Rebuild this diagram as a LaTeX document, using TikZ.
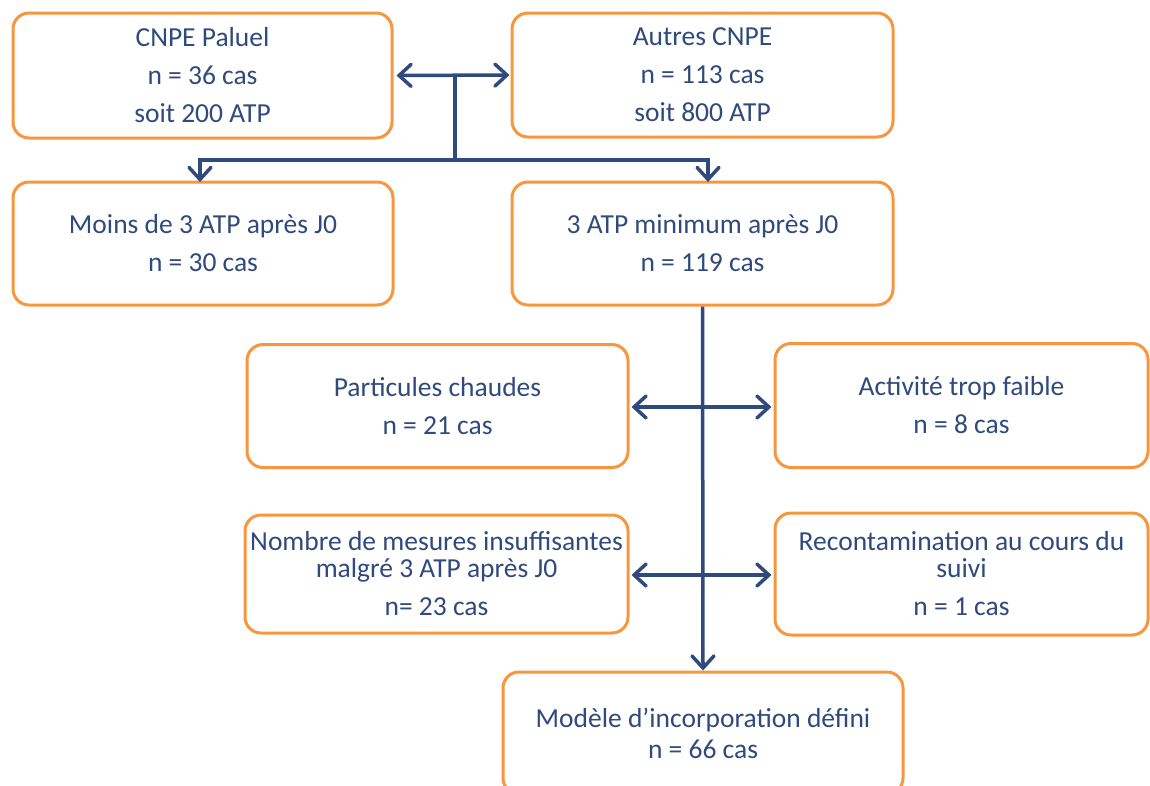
\documentclass[tikz,border=0pt]{standalone}
\usepackage{fontspec}
\setmainfont{Carlito}
\usetikzlibrary{arrows.meta}
\definecolor{boxorange}{HTML}{F7963C}
\definecolor{navy}{HTML}{2F4A7C}
\begin{document}
\begin{tikzpicture}[x=1pt,y=-1pt,
  box/.style={draw=boxorange,line width=3pt,rounded corners=16pt,fill=white,
    align=center,text=navy,inner sep=0pt,
    font=\fontsize{27.5}{27}\selectfont},
  conn/.style={draw=navy,line width=3.5pt,
    arrows={-Straight Barb[length=12pt,width=22pt,line cap=round]}},
  dbl/.style={draw=navy,line width=3.5pt,
    arrows={Straight Barb[length=12pt,width=22pt,line cap=round]-Straight Barb[length=12pt,width=22pt,line cap=round]}},
  plain/.style={draw=navy,line width=3.5pt}
]
\useasboundingbox (0,0) rectangle (1150,785);
\clip (0,0) rectangle (1150,785);

\node[box,minimum width=379pt,minimum height=125pt] (b1) at (202.5,75.5)
  {CNPE Paluel\\[11pt]n = 36 cas\\[11pt]soit 200 ATP};
\node[box,minimum width=381pt,minimum height=124pt] (b2) at (702.5,75)
  {Autres CNPE\\[11pt]n = 113 cas\\[11pt]soit 800 ATP};
\node[box,minimum width=380pt,minimum height=123pt] (b3) at (203,243.5)
  {Moins de 3 ATP après J0\\[11pt]n = 30 cas};
\node[box,minimum width=381pt,minimum height=123pt] (b4) at (702.5,243.5)
  {3 ATP minimum après J0\\[11pt]n = 119 cas};
\node[box,minimum width=381pt,minimum height=123pt] (b5) at (437.5,406)
  {Particules chaudes\\[11pt]n = 21 cas};
\node[box,minimum width=373pt,minimum height=124pt] (b6) at (961.5,405.5)
  {Activité trop faible\\[11pt]n = 8 cas};
\node[box,minimum width=383pt,minimum height=118pt] (b7) at (436.5,574)
  {Nombre de mesures insuffisantes\\malgré 3 ATP après J0\\[11pt]n= 23 cas};
\node[box,minimum width=373pt,minimum height=122pt] (b8) at (961.5,574)
  {Recontamination au cours du\\suivi\\[11pt]n = 1 cas};
\node[box,minimum width=400pt,minimum height=122pt] (b9) at (703,733)
  {Modèle d'incorporation défini\\[4pt]n = 66 cas};

\coordinate (t) at (455,75);
\coordinate (h) at (455,160);
\coordinate (l) at (200,182);
\coordinate (r) at (708,182);

\draw[dbl,shorten <=3pt,shorten >=1pt] (b1.east) -- (b2.west);
\draw[plain] (t) -- (h);
\draw[conn] (h) -| (l);
\draw[conn] (h) -| (r);
\draw[conn] (b4.south) -- (b9.north);
\draw[dbl,shorten <=2pt,shorten >=2pt] (b5.east |- 0,407) -- (b6.west |- 0,407);
\draw[dbl,shorten <=2pt,shorten >=2pt] (b7.east |- 0,575) -- (b8.west |- 0,575);
\end{tikzpicture}
\end{document}
